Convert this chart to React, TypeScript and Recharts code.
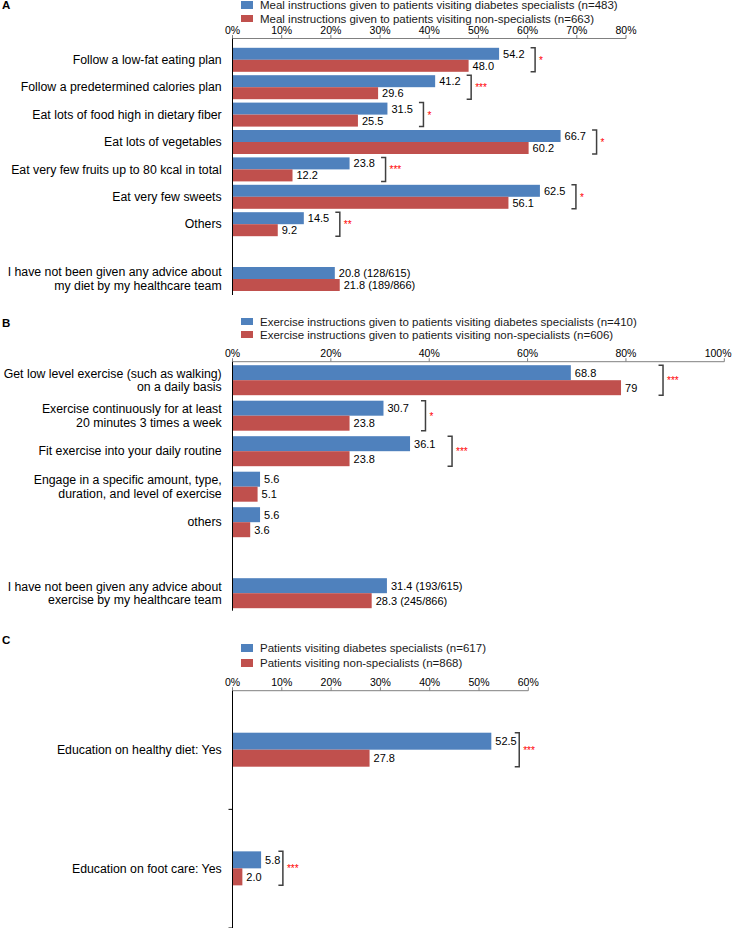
import React from 'react';
import { BarChart, Bar, XAxis, YAxis, Legend } from 'recharts';

const FONT = '"Liberation Sans", Arial, Helvetica, sans-serif';
const BLUE = '#4F81BD';
const RED = '#C0504D';
const STAR = '#FF0000';

// ---------- Panel A ----------
const categoriesA = [
  'Follow a low-fat eating plan',
  'Follow a predetermined calories plan',
  'Eat lots of food high in dietary fiber',
  'Eat lots of vegetables',
  'Eat very few fruits up to 80 kcal in total',
  'Eat very few sweets',
  'Others',
  '',
  'I have not been given any advice about\nmy diet by my healthcare team',
];
const specA = [54.2, 41.2, 31.5, 66.7, 23.8, 62.5, 14.5, null, 20.8];
const nonA = [48.0, 29.6, 25.5, 60.2, 12.2, 56.1, 9.2, null, 21.8];
const specLabelsA = ['54.2', '41.2', '31.5', '66.7', '23.8', '62.5', '14.5', '', '20.8 (128/615)'];
const nonLabelsA = ['48.0', '29.6', '25.5', '60.2', '12.2', '56.1', '9.2', '', '21.8 (189/866)'];
const sigA = ['*', '***', '*', '*', '***', '*', '**', '', ''];
const ticksA = [0, 10, 20, 30, 40, 50, 60, 70, 80];
const specNameA = 'Meal instructions given to patients visiting diabetes specialists (n=483)';
const nonNameA = 'Meal instructions given to patients visiting non-specialists (n=663)';

// ---------- Panel B ----------
const categoriesB = [
  'Get low level exercise (such as walking)\non a daily basis',
  'Exercise continuously for at least\n20 minutes 3 times a week',
  'Fit exercise into your daily routine',
  'Engage in a specific amount, type,\nduration, and level of exercise',
  'others',
  '',
  'I have not been given any advice about\nexercise by my healthcare team',
];
const specB = [68.8, 30.7, 36.1, 5.6, 5.6, null, 31.4];
const nonB = [79, 23.8, 23.8, 5.1, 3.6, null, 28.3];
const specLabelsB = ['68.8', '30.7', '36.1', '5.6', '5.6', '', '31.4 (193/615)'];
const nonLabelsB = ['79', '23.8', '23.8', '5.1', '3.6', '', '28.3 (245/866)'];
const sigB = ['***', '*', '***', '', '', '', ''];
const ticksB = [0, 20, 40, 60, 80, 100];
const specNameB = 'Exercise instructions given to patients visiting diabetes specialists (n=410)';
const nonNameB = 'Exercise instructions given to patients visiting non-specialists (n=606)';

// ---------- Panel C ----------
const categoriesC = ['Education on healthy diet: Yes', 'Education on foot care: Yes'];
const specC = [52.5, 5.8];
const nonC = [27.8, 2.0];
const specLabelsC = ['52.5', '5.8'];
const nonLabelsC = ['27.8', '2.0'];
const sigC = ['***', '***'];
const ticksC = [0, 10, 20, 30, 40, 50, 60];
const specNameC = 'Patients visiting diabetes specialists (n=617)';
const nonNameC = 'Patients visiting non-specialists (n=868)';

type Row = {
  name: string;
  spec: number | null;
  non: number | null;
  specLabel: string;
  nonLabel: string;
  sig: string;
};

function buildRows(cats: string[], spec: (number | null)[], non: (number | null)[], sl: string[], nl: string[], sig: string[]): Row[] {
  return cats.map((name, i) => ({ name, spec: spec[i], non: non[i], specLabel: sl[i], nonLabel: nl[i], sig: sig[i] }));
}

// approximate text width for Arial-metric font
function textWidth(s: string, fs: number) {
  let w = 0;
  for (const ch of s) {
    if (ch >= '0' && ch <= '9') w += 0.556;
    else if (ch === '.' || ch === ' ') w += 0.278;
    else if (ch === '%') w += 0.889;
    else if (ch === '(' || ch === ')' || ch === '/') w += 0.333;
    else w += 0.5;
  }
  return w * fs;
}

const CatTick = (props: any) => {
  const { x, y, payload, lineH, fontSize, markBand, axisGap } = props;
  const lines = String(payload?.value ?? '').split('\n');
  const n = lines.length;
  return (
    <g>
      <text x={x} y={y} textAnchor="end" fontSize={fontSize} fontFamily={FONT} fill="#000">
        {lines.map((l: string, i: number) => (
          <tspan key={i} x={x} dy={i === 0 ? -((n - 1) / 2) * lineH + 0.36 * fontSize : lineH}>
            {l}
          </tspan>
        ))}
      </text>
      {markBand ? (
        <line x1={x + axisGap - 4} x2={x + axisGap} y1={y + markBand / 2} y2={y + markBand / 2} stroke="#000" strokeWidth={1} />
      ) : null}
    </g>
  );
};

const PctTick = (props: any) => {
  const { x, y, payload, fontSize } = props;
  const label = `${payload?.value}%`;
  const w = textWidth(label, fontSize);
  const maxRight = 731.5;
  let anchor: 'middle' | 'end' = 'middle';
  let tx = x;
  if (x + w / 2 > maxRight) {
    anchor = 'end';
    tx = maxRight;
  }
  return (
    <text x={tx} y={y} textAnchor={anchor} fontSize={fontSize} fontFamily={FONT} fill="#000">
      {label}
    </text>
  );
};

function makeShape(kind: 'spec' | 'non', bracketOffset: number, labelGap: number) {
  return (props: any) => {
    const { x, y, width, height, payload } = props;
    const v = payload ? payload[kind] : null;
    if (v == null || !isFinite(width)) return <g />;
    const label = kind === 'spec' ? payload.specLabel : payload.nonLabel;
    const parts: any[] = [
      <rect key="r" x={x} y={y} width={Math.max(width, 0)} height={height} fill={kind === 'spec' ? BLUE : RED} />,
      <text key="t" x={x + width + 4} y={y + height / 2} dominantBaseline="central" fontSize={11} fontFamily={FONT} fill="#000">
        {label}
      </text>,
    ];
    if (kind === 'non' && payload.sig) {
      const pxPer = width / v;
      const specEnd = x + (payload.spec ?? 0) * pxPer;
      const nonEnd = x + v * pxPer;
      let bx: number;
      if (labelGap > 0) {
        const e1 = specEnd + 4 + textWidth(payload.specLabel, 11);
        const e2 = nonEnd + 4 + textWidth(payload.nonLabel, 11);
        bx = Math.max(e1, e2) + labelGap;
      } else {
        bx = Math.max(specEnd, nonEnd) + bracketOffset;
      }
      const top = y - height;
      const bottom = y + height;
      parts.push(
        <path key="b" d={`M${bx - 4.5},${top} L${bx},${top} L${bx},${bottom} L${bx - 4.5},${bottom}`} fill="none" stroke="#404040" strokeWidth={1.5} />
      );
      parts.push(
        <text key="s" x={bx + 4} y={(top + bottom) / 2 + 4} fontSize={10} fontFamily={FONT} fill={STAR}>
          {payload.sig}
        </text>
      );
    }
    return <g>{parts}</g>;
  };
}

const LegendBox = (props: any) => {
  const { payload, rowH } = props;
  return (
    <div style={{ fontFamily: FONT, fontSize: 11.5, color: '#1a1a1a' }}>
      {(payload || []).map((p: any, i: number) => (
        <div key={i} style={{ display: 'flex', alignItems: 'center', height: rowH, whiteSpace: 'nowrap' }}>
          <span style={{ display: 'inline-block', width: 12, height: 7.5, background: p.color, marginRight: 7.5 }} />
          <span>{p.value}</span>
        </div>
      ))}
    </div>
  );
};

type PanelProps = {
  top: number;
  height: number;
  rows: Row[];
  specName: string;
  nonName: string;
  xMax: number;
  ticks: number[];
  axisY: number;
  marginRight: number;
  marginBottom: number;
  padTop: number;
  padBottom: number;
  barSize: number;
  bracketOffset: number;
  labelGap: number;
  legendTop: number;
  legendRowH: number;
  tickFont: number;
  catMarks: boolean;
};

function Panel(p: PanelProps) {
  const plotH = p.height - p.axisY - p.marginBottom - p.padTop - p.padBottom;
  const band = plotH / p.rows.length;
  const axisGap = 10.8;
  return (
    <div style={{ position: 'absolute', left: 0, top: p.top }}>
      <BarChart
        width={732}
        height={p.height}
        data={p.rows}
        layout="vertical"
        margin={{ top: 0, right: p.marginRight, bottom: p.marginBottom, left: 0 }}
        barGap={0}
      >
        <XAxis
          type="number"
          orientation="top"
          domain={[0, p.xMax]}
          ticks={p.ticks}
          interval={0}
          height={p.axisY}
          axisLine={{ stroke: '#808080' }}
          tickLine={{ stroke: '#808080' }}
          tickSize={3.5}
          tickMargin={1}
          tick={<PctTick fontSize={p.tickFont} />}
        />
        <YAxis
          type="category"
          dataKey="name"
          width={232.5}
          padding={{ top: p.padTop, bottom: p.padBottom }}
          axisLine={{ stroke: '#000' }}
          tickLine={false}
          tickSize={0}
          tickMargin={axisGap}
          interval={0}
          tick={<CatTick lineH={13.3} fontSize={12.3} markBand={p.catMarks ? band : 0} axisGap={axisGap} />}
        />
        <Legend
          layout="vertical"
          align="center"
          verticalAlign="middle"
          wrapperStyle={{ left: 240.5, top: p.legendTop, width: 'auto', height: 'auto' }}
          content={<LegendBox rowH={p.legendRowH} />}
        />
        <Bar dataKey="spec" name={p.specName} fill={BLUE} barSize={p.barSize} isAnimationActive={false} shape={makeShape('spec', p.bracketOffset, p.labelGap)} />
        <Bar dataKey="non" name={p.nonName} fill={RED} barSize={p.barSize} isAnimationActive={false} shape={makeShape('non', p.bracketOffset, p.labelGap)} />
      </BarChart>
    </div>
  );
}

const letterStyle: React.CSSProperties = {
  position: 'absolute',
  left: 2,
  fontFamily: FONT,
  fontWeight: 'bold',
  fontSize: 11.5,
  lineHeight: 1,
  color: '#000',
};

export default function App() {
  const rowsA = buildRows(categoriesA, specA, nonA, specLabelsA, nonLabelsA, sigA);
  const rowsB = buildRows(categoriesB, specB, nonB, specLabelsB, nonLabelsB, sigB);
  const rowsC = buildRows(categoriesC, specC, nonC, specLabelsC, nonLabelsC, sigC);
  return (
    <div style={{ position: 'absolute', left: 0, top: 0, width: 732, height: 928, background: '#fff', overflow: 'hidden', fontFamily: FONT }}>
      <div style={{ ...letterStyle, top: 0 }}>A</div>
      <div style={{ ...letterStyle, top: 318 }}>B</div>
      <div style={{ ...letterStyle, top: 635 }}>C</div>
      <Panel
        top={0}
        height={300}
        rows={rowsA}
        specName={specNameA}
        nonName={nonNameA}
        xMax={80}
        ticks={ticksA}
        axisY={38.5}
        marginRight={106}
        marginBottom={5}
        padTop={7.3}
        padBottom={2.6}
        barSize={12}
        bracketOffset={36}
        labelGap={0}
        legendTop={-2}
        legendRowH={13.7}
        tickFont={10.5}
        catMarks={false}
      />
      <Panel
        top={300}
        height={312}
        rows={rowsB}
        specName={specNameB}
        nonName={nonNameB}
        xMax={100}
        ticks={ticksB}
        axisY={61.7}
        marginRight={7.7}
        marginBottom={1.3}
        padTop={0.5}
        padBottom={0}
        barSize={15}
        bracketOffset={42}
        labelGap={0}
        legendTop={15}
        legendRowH={13}
        tickFont={10.5}
        catMarks={false}
      />
      <Panel
        top={620}
        height={308}
        rows={rowsC}
        specName={specNameC}
        nonName={nonNameC}
        xMax={60}
        ticks={ticksC}
        axisY={70.7}
        marginRight={203.7}
        marginBottom={0}
        padTop={0}
        padBottom={0}
        barSize={17}
        bracketOffset={25}
        labelGap={2.5}
        legendTop={20.5}
        legendRowH={15}
        tickFont={10.5}
        catMarks={true}
      />
    </div>
  );
}
